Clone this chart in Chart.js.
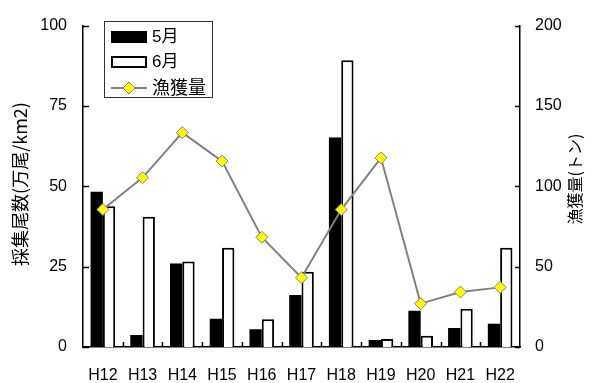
<!DOCTYPE html>
<html>
<head>
<meta charset="utf-8">
<script src="https://cdn.jsdelivr.net/npm/chart.js@4/dist/chart.umd.min.js"></script>
<style>
  html, body { margin: 0; padding: 0; background: #fff; }
  #wrap { width: 593px; height: 383px; position: relative; }
</style>
</head>
<body>
<div id="wrap"><canvas id="c"></canvas></div>
<script>
// Survey years
const years = ['H12', 'H13', 'H14', 'H15', 'H16', 'H17', 'H18', 'H19', 'H20', 'H21', 'H22'];
// Sampled density (10^4 individuals / km2)
const mayDensity = [48.3, 3.7, 26.0, 8.8, 5.5, 16.2, 65.2, 2.2, 11.3, 5.9, 7.2];
const juneDensity = [43.8, 40.5, 26.6, 30.9, 8.6, 23.4, 89.2, 2.5, 3.5, 11.9, 30.9];
// Landings (t)
const landings = [85.6, 105.4, 133.4, 115.7, 68.3, 43.1, 85.5, 117.7, 27.0, 34.2, 37.1];
// Axis ticks
const leftTicks = [0, 25, 50, 75, 100];
const rightTicks = [0, 50, 100, 150, 200];

const seriesNames = ['5月', '6月', '漁獲量'];
const leftTitle = '採集尾数(万尾/km2)';
const rightTitle = '漁獲量(トン)';

const NUM_FONT = '"Liberation Sans", Arial, sans-serif';
const JP_FONT = '"Liberation Sans", "Noto Sans CJK JP", sans-serif';

// Inward tick marks, rotated axis titles and a framed legend inside the plot
const decor = {
  id: 'decor',
  afterDraw(chart) {
    const ctx = chart.ctx;
    const { x, y, y2 } = chart.scales;
    const area = chart.chartArea;
    ctx.save();
    ctx.strokeStyle = '#000';
    ctx.lineWidth = 1.5;
    ctx.beginPath();
    leftTicks.forEach(v => {
      const py = Math.round(y.getPixelForValue(v)) + 0.5;
      ctx.moveTo(area.left, py); ctx.lineTo(area.left + 6, py);
    });
    rightTicks.forEach(v => {
      const py = Math.round(y2.getPixelForValue(v)) + 0.5;
      ctx.moveTo(area.right, py); ctx.lineTo(area.right - 5, py);
    });
    for (let i = 1; i < years.length; i++) {
      const px = Math.round((x.getPixelForValue(i - 1) + x.getPixelForValue(i)) / 2) + 0.5;
      ctx.moveTo(px, area.bottom); ctx.lineTo(px, area.bottom - 5);
    }
    ctx.stroke();

    // axis titles
    ctx.fillStyle = '#000';
    ctx.textAlign = 'center';
    ctx.textBaseline = 'middle';
    ctx.save();
    ctx.translate(20, 184);
    ctx.rotate(-Math.PI / 2);
    ctx.font = '18px "Noto Sans CJK JP", sans-serif';
    ctx.fillText(leftTitle, 0, 0);
    ctx.restore();
    ctx.save();
    ctx.translate(575, 179);
    ctx.rotate(-Math.PI / 2);
    ctx.font = '16px "Noto Sans CJK JP", sans-serif';
    ctx.fillText(rightTitle, 0, 0);
    ctx.restore();

    // legend
    const ds = chart.data.datasets;
    ctx.fillStyle = '#fff';
    ctx.fillRect(104, 21, 108, 76);
    ctx.strokeStyle = '#333';
    ctx.lineWidth = 1;
    ctx.strokeRect(104.5, 21.5, 108, 76);
    ctx.font = '17px ' + JP_FONT;
    ctx.textAlign = 'left';
    ctx.textBaseline = 'middle';
    // black bar swatch
    ctx.fillStyle = ds[1].backgroundColor;
    ctx.fillRect(111, 31, 36, 12);
    ctx.fillStyle = '#000';
    ctx.fillText(ds[1].label, 152, 37);
    // white bar swatch
    ctx.fillStyle = ds[2].backgroundColor;
    ctx.fillRect(111, 56, 36, 12);
    ctx.strokeStyle = ds[2].borderColor;
    ctx.lineWidth = 2;
    ctx.strokeRect(112, 57, 34, 10);
    ctx.fillStyle = '#000';
    ctx.fillText(ds[2].label, 152, 62);
    // line swatch
    ctx.strokeStyle = ds[0].borderColor;
    ctx.lineWidth = 2;
    ctx.beginPath();
    ctx.moveTo(111, 88); ctx.lineTo(147, 88);
    ctx.stroke();
    ctx.beginPath();
    ctx.moveTo(129, 82); ctx.lineTo(135, 88); ctx.lineTo(129, 94); ctx.lineTo(123, 88); ctx.closePath();
    ctx.fillStyle = ds[0].pointBackgroundColor;
    ctx.fill();
    ctx.lineWidth = 1;
    ctx.strokeStyle = ds[0].pointBorderColor;
    ctx.stroke();
    ctx.fillStyle = '#000';
    ctx.font = '18px "Noto Sans CJK JP", sans-serif';
    ctx.fillText(ds[0].label, 152, 87);
    ctx.restore();
  }
};

new Chart(document.getElementById('c'), {
  data: {
    labels: years,
    datasets: [
      {
        type: 'line',
        label: seriesNames[2],
        data: landings,
        yAxisID: 'y2',
        order: 0,
        borderColor: '#808080',
        borderWidth: 2,
        tension: 0,
        pointStyle: 'rectRot',
        pointRadius: 6,
        pointBackgroundColor: '#FFFF00',
        pointBorderColor: '#808080',
        pointBorderWidth: 1
      },
      {
        type: 'bar',
        label: seriesNames[0],
        data: mayDensity,
        yAxisID: 'y',
        order: 1,
        backgroundColor: '#000',
        borderColor: '#000',
        borderWidth: 0,
        categoryPercentage: 0.62,
        barPercentage: 1.0
      },
      {
        type: 'bar',
        label: seriesNames[1],
        data: juneDensity,
        yAxisID: 'y',
        order: 2,
        backgroundColor: '#fff',
        borderColor: '#000',
        borderWidth: 2,
        categoryPercentage: 0.62,
        barPercentage: 1.0
      }
    ]
  },
  options: {
    responsive: true,
    maintainAspectRatio: false,
    animation: false,
    layout: { padding: { top: 17, left: 0, right: 0, bottom: 0 } },
    plugins: {
      legend: { display: false },
      tooltip: { enabled: false }
    },
    scales: {
      x: {
        grid: { display: false, drawTicks: false },
        border: { display: true, color: '#000', width: 1.5 },
        ticks: { color: '#000', font: { family: NUM_FONT, size: 16 }, padding: 19, maxRotation: 0, autoSkip: false },
        afterFit: s => { s.height = 36; }
      },
      y: {
        position: 'left',
        min: 0, max: 100,
        grid: { display: false, drawTicks: false },
        border: { display: true, color: '#000', width: 1.5 },
        ticks: { color: '#000', font: { family: NUM_FONT, size: 16 }, padding: 16 },
        afterBuildTicks: s => { s.ticks = leftTicks.map(v => ({ value: v })); },
        afterFit: s => { s.width = 83; }
      },
      y2: {
        position: 'right',
        min: 0, max: 200,
        grid: { display: false, drawTicks: false },
        border: { display: true, color: '#000', width: 1.5 },
        ticks: { color: '#000', font: { family: NUM_FONT, size: 16 }, padding: 15 },
        afterBuildTicks: s => { s.ticks = rightTicks.map(v => ({ value: v })); },
        afterFit: s => { s.width = 73; }
      }
    }
  },
  plugins: [decor]
});
</script>
</body>
</html>
